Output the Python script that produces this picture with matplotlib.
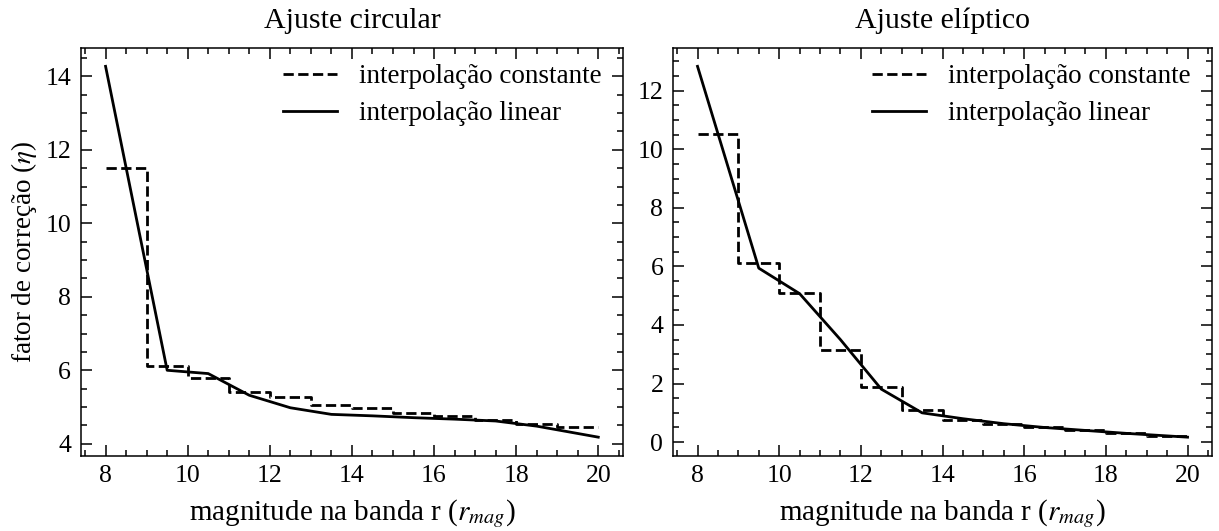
import matplotlib
matplotlib.use('Agg')
import matplotlib.pyplot as plt
from matplotlib.ticker import MultipleLocator

plt.rcParams['font.family'] = ['Liberation Serif', 'DejaVu Serif']
plt.rcParams['mathtext.fontset'] = 'stix'

# bins of magnitude (step edges) and bin centres for the linear curve
step_x = [8, 9, 10, 11, 12, 13, 14, 15, 16, 17, 18, 19, 20]
lin_x = [8, 9.5, 10.5, 11.5, 12.5, 13.5, 14.5, 15.5, 16.5, 17.5, 18.5, 20]

circ_const = [11.5, 6.12, 5.8, 5.41, 5.28, 5.05, 4.96, 4.85, 4.76, 4.66, 4.55, 4.45]
circ_lin = [14.27, 6.0, 5.91, 5.32, 4.98, 4.8, 4.76, 4.71, 4.67, 4.62, 4.48, 4.18]

elip_const = [10.51, 6.12, 5.09, 3.15, 1.89, 1.11, 0.74, 0.62, 0.51, 0.4, 0.31, 0.2]
elip_lin = [12.83, 5.94, 5.07, 3.5, 1.81, 1.0, 0.8, 0.63, 0.5, 0.4, 0.3, 0.17]

titles = ['Ajuste circular', 'Ajuste elíptico']

fig = plt.figure(figsize=(12.19, 5.31), dpi=100)
ax1 = fig.add_axes([0.0664, 0.1418, 0.4446, 0.7682])
ax2 = fig.add_axes([0.5521, 0.1418, 0.4422, 0.7682])

for ax, const, lin, title in [(ax1, circ_const, circ_lin, titles[0]),
                              (ax2, elip_const, elip_lin, titles[1])]:
    ax.plot(step_x, const + [const[-1]], drawstyle='steps-post', ls='--',
            color='black', lw=2, label='interpolação constante')
    ax.plot(lin_x, lin, color='black', lw=2, label='interpolação linear')
    ax.set_title(title, fontsize=21.5, pad=14)
    ax.set_xlabel(r'magnitude na banda r ($r_{mag}$)', fontsize=21, labelpad=7)
    ax.xaxis.set_major_locator(MultipleLocator(2))
    ax.xaxis.set_minor_locator(MultipleLocator(0.5))
    ax.yaxis.set_major_locator(MultipleLocator(2))
    ax.yaxis.set_minor_locator(MultipleLocator(0.5))
    ax.tick_params(which='both', direction='in', top=True, right=True,
                   labelsize=18.5, width=1.1)
    ax.tick_params(which='major', length=8, pad=7)
    ax.tick_params(which='minor', length=4)
    for s in ax.spines.values():
        s.set_linewidth(1.1)
    ax.legend(loc='upper right', frameon=False, fontsize=19.5,
              handlelength=2.0, borderaxespad=0.2, labelspacing=0.45,
              bbox_to_anchor=(0.99, 1.0))

ax1.set_ylabel(r'fator de correção ($\eta$)', fontsize=19.5, labelpad=5)

fig.savefig('out.png', dpi=100)
